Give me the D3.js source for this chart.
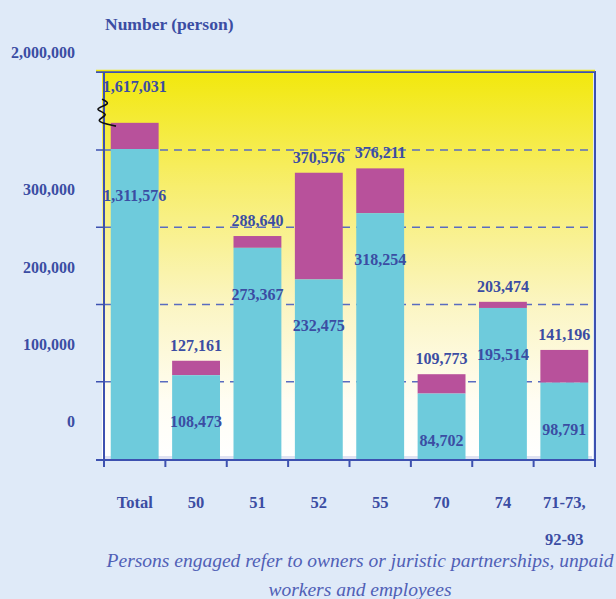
<!DOCTYPE html>
<html>
<head>
<meta charset="utf-8">
<script src="https://cdn.jsdelivr.net/npm/d3@7"></script>
<style>
  body { margin: 0; background: #dfeaf8; }
  svg { display: block; }
  text { font-family: "Liberation Serif", "Times New Roman", serif; fill: #3b4da3; }
</style>
</head>
<body>
<svg id="chart" width="616" height="599"></svg>
<script>
"use strict";

// data
var categories = ["Total", "50", "51", "52", "55", "70", "74", "71-73"];
var categoryLines = [["Total"], ["50"], ["51"], ["52"], ["55"], ["70"], ["74"], ["71-73,", "92-93"]];
var totalPersons = [1617031, 127161, 288640, 370576, 376211, 109773, 203474, 141196];
var employees = [1311576, 108473, 273367, 232475, 318254, 84702, 195514, 98791];
var gridValues = [100000, 200000, 300000, 400000];
var tickValues = [0, 100000, 200000, 300000, 2000000];
var footnote = [
  "Persons engaged refer to owners or juristic partnerships, unpaid",
  "workers and employees",
];

var svg = d3.select("#chart");
var plot = { left: 104, right: 595, top: 72, bottom: 459 };
var fmt = d3.format(",");
var breakFrom = 400000,
  breakTo = 1300000,
  yMax = 2000000;

var x = d3
  .scaleBand()
  .domain(categories)
  .range([plot.left, plot.right])
  .paddingInner(0.22)
  .paddingOuter(0.11);

// broken axis: 400,000 .. 1,300,000 is cut out
var y = d3
  .scaleLinear()
  .domain([0, breakFrom, breakTo, yMax])
  .range([plot.bottom, 150, 150, 90]);

var rows = categories.map((c, i) => ({
  key: c,
  lines: categoryLines[i],
  total: totalPersons[i],
  emp: employees[i],
}));

// gradient background of the plot
var grad = svg
  .append("defs")
  .append("linearGradient")
  .attr("id", "bg")
  .attr("x1", 0)
  .attr("y1", 0)
  .attr("x2", 0)
  .attr("y2", 1);
[
  [0, "#f2e80c"],
  [0.3, "#f7ee6e"],
  [0.6, "#fbf5c2"],
  [0.85, "#fffdf3"],
  [1, "#ffffff"],
].forEach((s) => grad.append("stop").attr("offset", s[0]).attr("stop-color", s[1]));

svg
  .append("rect")
  .attr("x", plot.left - 2)
  .attr("y", plot.top - 1)
  .attr("width", plot.right - plot.left)
  .attr("height", plot.bottom - plot.top + 1)
  .attr("fill", "url(#bg)");

svg
  .append("rect")
  .attr("x", plot.left)
  .attr("y", plot.bottom - 3)
  .attr("width", plot.right - plot.left - 3)
  .attr("height", 3)
  .attr("fill", "#dfe2f2");

// dashed gridlines
svg
  .selectAll(".grid")
  .data(gridValues)
  .enter()
  .append("line")
  .attr("class", "grid")
  .attr("x1", plot.left)
  .attr("x2", plot.right - 5)
  .attr("y1", (d) => y(d))
  .attr("y2", (d) => y(d))
  .attr("stroke", "#5a6cc0")
  .attr("stroke-width", 1.3)
  .attr("stroke-dasharray", "8,6");

// bars
var bars = svg.selectAll(".bar").data(rows).enter().append("g").attr("class", "bar");

bars
  .append("rect")
  .attr("x", (d) => x(d.key))
  .attr("width", x.bandwidth())
  .attr("y", (d) => y(d.total))
  .attr("height", (d) => y(d.emp) - y(d.total))
  .attr("fill", "#b8519b");

bars
  .append("rect")
  .attr("x", (d) => x(d.key))
  .attr("width", x.bandwidth())
  .attr("y", (d) => y(d.emp))
  .attr("height", (d) => y(0) - y(d.emp))
  .attr("fill", "#6ecbdc");

// totals above the bar; bars past the break get their label at the axis top
bars
  .append("text")
  .attr("x", (d) => x(d.key) + x.bandwidth() / 2)
  .attr("y", (d) => (d.total > breakTo ? y(yMax) + 2 : y(d.total) - 10))
  .attr("text-anchor", "middle")
  .style("font-size", "16px")
  .style("font-weight", "bold")
  .text((d) => fmt(d.total));

bars
  .append("text")
  .attr("x", (d) => x(d.key) + x.bandwidth() / 2)
  .attr("y", (d) => y(d.emp) + 52)
  .attr("text-anchor", "middle")
  .style("font-size", "16px")
  .style("font-weight", "bold")
  .text((d) => fmt(d.emp));

// frame and axes
var axisColor = "#3d51b0";
svg
  .append("path")
  .attr("d", `M${plot.left - 8},${plot.top}H${plot.right}V${plot.bottom + 8}`)
  .attr("fill", "none")
  .attr("stroke", axisColor)
  .attr("stroke-width", 2);
svg
  .append("line")
  .attr("x1", plot.left - 8)
  .attr("x2", plot.right)
  .attr("y1", plot.top - 1.5)
  .attr("y2", plot.top - 1.5)
  .attr("stroke", "#f3ea10")
  .attr("stroke-width", 1.5);

svg
  .append("line")
  .attr("x1", plot.left)
  .attr("x2", plot.left)
  .attr("y1", plot.top)
  .attr("y2", plot.bottom + 8)
  .attr("stroke", axisColor)
  .attr("stroke-width", 2);
svg
  .append("line")
  .attr("x1", plot.left - 8)
  .attr("x2", plot.right)
  .attr("y1", plot.bottom + 1)
  .attr("y2", plot.bottom + 1)
  .attr("stroke", axisColor)
  .attr("stroke-width", 2);

// left ticks
svg
  .selectAll(".ytick")
  .data(gridValues)
  .enter()
  .append("line")
  .attr("x1", plot.left - 8)
  .attr("x2", plot.left)
  .attr("y1", (d) => y(d))
  .attr("y2", (d) => y(d))
  .attr("stroke", axisColor)
  .attr("stroke-width", 1.5);

// bottom ticks at category boundaries
var halfGap = (x.step() * x.paddingInner()) / 2;
var bounds = categories.map((c) => x(c) - halfGap).slice(1);
svg
  .selectAll(".xtick")
  .data(bounds)
  .enter()
  .append("line")
  .attr("x1", (d) => d)
  .attr("x2", (d) => d)
  .attr("y1", plot.bottom)
  .attr("y2", plot.bottom + 8)
  .attr("stroke", axisColor)
  .attr("stroke-width", 2);

// y tick labels (sit above their gridline, as in the original)
svg
  .selectAll(".ylabel")
  .data(tickValues)
  .enter()
  .append("text")
  .attr("x", 75)
  .attr("y", (d) => y(d) - 32)
  .attr("text-anchor", "end")
  .style("font-size", "16px")
  .style("font-weight", "bold")
  .text((d) => fmt(d));

svg
  .append("text")
  .attr("x", 105)
  .attr("y", 30)
  .style("font-size", "17.5px")
  .style("font-weight", "bold")
  .text("Number (person)");

// category labels
var cat = svg
  .selectAll(".cat")
  .data(rows)
  .enter()
  .append("text")
  .attr("text-anchor", "middle")
  .style("font-size", "16.5px")
  .style("font-weight", "bold");
cat
  .selectAll("tspan")
  .data((d) => d.lines.map((l) => ({ l: l, key: d.key })))
  .enter()
  .append("tspan")
  .attr("x", (d) => x(d.key) + x.bandwidth() / 2)
  .attr("y", (d, i) => 508 + i * 37)
  .text((d) => d.l);

// axis break symbol
var brk = [
  [-2, -14],
  [8, -9],
  [-13, -4],
  [8, 1],
  [-12, 8],
  [12, 13],
];
var cy = y(1730000);
svg
  .append("path")
  .attr(
    "d",
    d3
      .line()
      .x((d) => plot.left + d[0])
      .y((d) => cy + d[1])
      .curve(d3.curveBasis)(brk)
  )
  .attr("fill", "none")
  .attr("stroke", "#111")
  .attr("stroke-width", 1.6);

// footnote
svg
  .selectAll(".note")
  .data(footnote)
  .enter()
  .append("text")
  .attr("x", 360)
  .attr("y", (d, i) => 567 + i * 29)
  .attr("text-anchor", "middle")
  .style("font-size", "19.5px")
  .style("font-style", "italic")
  .style("fill", "#5060b6")
  .text((d) => d);
</script>
</body>
</html>
